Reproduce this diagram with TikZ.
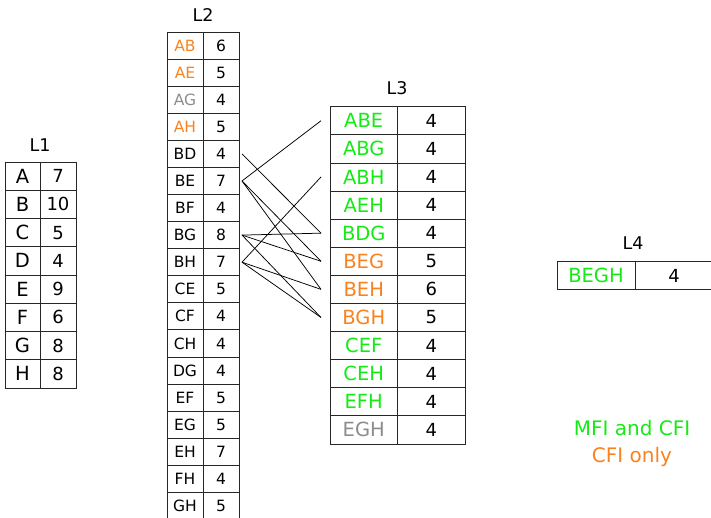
\documentclass[tikz,border=0pt]{standalone}
\usepackage{fontspec}
\setmainfont{DejaVu Sans}
\usetikzlibrary{positioning}

\definecolor{mfi}{RGB}{20,235,20}
\definecolor{cfi}{RGB}{250,130,30}
\definecolor{infreq}{RGB}{140,140,140}

\begin{document}
\begin{tikzpicture}[
            x = 1pt, y = -1pt, % work on the pixel grid
            semithick
            , every node/.style={inner sep=0pt, outer sep=0pt}
        ]

        \tikzstyle{cell}=[
            draw = black!85,
            line width = 0.8pt,
            anchor = north west
        ]
        \tikzstyle{big}=[font=\fontsize{19.5}{21}\selectfont]
        \tikzstyle{num}=[font=\fontsize{18}{20}\selectfont]
        \tikzstyle{small}=[font=\fontsize{15.5}{17}\selectfont]
        \tikzstyle{title}=[font=\fontsize{17.5}{20}\selectfont]
        \tikzstyle{link}=[draw = black, line width = 0.75pt]

        \clip (0,0) rectangle (711,517);

        % L1
        \node[title] (L1) at (40,145) {L1};
        \foreach \a/\n [count=\i from 0] in {A/7,B/10,C/5,D/4,E/9,F/6,G/8,H/8}
        {
            \node[cell, big, minimum width=35pt, minimum height=28.25pt] (\a) at (5,162+\i*28.25) {\a};
            \node[cell, num, minimum width=36pt, minimum height=28.25pt, right=0pt of \a] (\a-n) {\n};
        }

        % L2
        \node[title] (L2) at (203,15) {L2};
        \foreach \a/\n/\c [count=\i from 0] in {AB/6/cfi,AE/5/cfi,AG/4/infreq,AH/5/cfi,BD/4/black,BE/7/black,BF/4/black,BG/8/black,BH/7/black,CE/5/black,CF/4/black,CH/4/black,DG/4/black,EF/5/black,EG/5/black,EH/7/black,FH/4/black,GH/5/black}
        {
            \node[cell, small, text=\c, minimum width=36pt, minimum height=27.08pt] (\a) at (167,32+\i*27.08) {\a};
            \node[cell, small, minimum width=36pt, minimum height=27.08pt, right=0pt of \a] (\a-n) {\n};
        }

        % L3
        \node[title] (L3) at (397,88) {L3};
        \foreach \a/\n/\c [count=\i from 0] in {ABE/4/mfi,ABG/4/mfi,ABH/4/mfi,AEH/4/mfi,BDG/4/mfi,BEG/5/cfi,BEH/6/cfi,BGH/5/cfi,CEF/4/mfi,CEH/4/mfi,EFH/4/mfi,EGH/4/infreq}
        {
            \node[cell, big, text=\c, minimum width=67.5pt, minimum height=28.1pt] (\a) at (330,106.7+\i*28.1) {\a};
            \node[cell, num, minimum width=67.5pt, minimum height=28.1pt, right=0pt of \a] (\a-n) {\n};
        }

        % L4
        \node[title] (L4) at (633,243) {L4};
        \node[cell, big, text=mfi, minimum width=78pt, minimum height=27.6pt] (BEGH) at (557,261.7) {BEGH};
        \node[cell, num, minimum width=78pt, minimum height=27.6pt, right=0pt of BEGH] (BEGH-n) {4};

        % L2 -> L3
        \draw[link] ([xshift=3pt]BD-n.east) -- ([xshift=-9pt]BDG.west);
        \draw[link] ([xshift=3pt]BE-n.east) -- ([xshift=-9pt]ABE.west);
        \draw[link] ([xshift=3pt]BE-n.east) -- ([xshift=-9pt]BEG.west);
        \draw[link] ([xshift=3pt]BE-n.east) -- ([xshift=-9pt]BEH.west);
        \draw[link] ([xshift=3pt]BG-n.east) -- ([xshift=-9pt]BDG.west);
        \draw[link] ([xshift=3pt]BG-n.east) -- ([xshift=-9pt]BEG.west);
        \draw[link] ([xshift=3pt]BG-n.east) -- ([xshift=-9pt]BGH.west);
        \draw[link] ([xshift=3pt]BH-n.east) -- ([xshift=-9pt]ABH.west);
        \draw[link] ([xshift=3pt]BH-n.east) -- ([xshift=-9pt]BEH.west);
        \draw[link] ([xshift=3pt]BH-n.east) -- ([xshift=-9pt]BGH.west);

        % legend
        \node[big, font=\fontsize{20}{22}\selectfont, text=mfi] (key-mfi) at (632,428) {MFI and CFI};
        \node[big, font=\fontsize{20}{22}\selectfont, text=cfi] (key-cfi) at (632,457) {CFI only};

    \end{tikzpicture}
\end{document}
